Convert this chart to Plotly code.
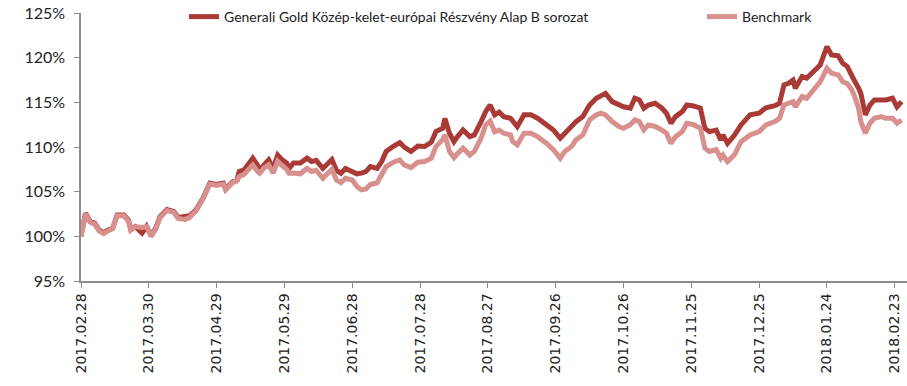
import plotly.graph_objects as go

# Daily net asset value index (start = 100%) for the fund and its benchmark
dates = [
    "2017-02-28", "2017-03-02", "2017-03-04", "2017-03-06", "2017-03-08", "2017-03-10",
    "2017-03-12", "2017-03-14", "2017-03-16", "2017-03-19", "2017-03-21", "2017-03-22",
    "2017-03-24", "2017-03-27", "2017-03-29", "2017-03-31", "2017-04-02", "2017-04-04",
    "2017-04-07", "2017-04-10", "2017-04-12", "2017-04-15", "2017-04-17", "2017-04-20",
    "2017-04-23", "2017-04-26", "2017-04-29", "2017-05-02", "2017-05-03", "2017-05-06",
    "2017-05-08", "2017-05-09", "2017-05-11", "2017-05-14", "2017-05-15", "2017-05-17",
    "2017-05-18", "2017-05-20", "2017-05-22", "2017-05-24", "2017-05-26", "2017-05-28",
    "2017-05-30", "2017-05-31", "2017-06-02", "2017-06-05", "2017-06-08", "2017-06-10",
    "2017-06-12", "2017-06-15", "2017-06-19", "2017-06-21", "2017-06-23", "2017-06-25",
    "2017-06-28", "2017-06-30", "2017-07-02", "2017-07-04", "2017-07-06", "2017-07-09",
    "2017-07-11", "2017-07-13", "2017-07-16", "2017-07-19", "2017-07-21", "2017-07-24",
    "2017-07-27", "2017-07-30", "2017-08-02", "2017-08-04", "2017-08-07", "2017-08-08",
    "2017-08-10", "2017-08-12", "2017-08-13", "2017-08-16", "2017-08-19", "2017-08-21",
    "2017-08-24", "2017-08-26", "2017-08-28", "2017-08-30", "2017-09-01", "2017-09-03",
    "2017-09-06", "2017-09-07", "2017-09-09", "2017-09-12", "2017-09-15", "2017-09-18",
    "2017-09-22", "2017-09-25", "2017-09-28", "2017-09-30", "2017-10-03", "2017-10-05",
    "2017-10-08", "2017-10-11", "2017-10-14", "2017-10-16", "2017-10-18", "2017-10-21",
    "2017-10-24", "2017-10-26", "2017-10-29", "2017-10-31", "2017-11-02", "2017-11-04",
    "2017-11-06", "2017-11-09", "2017-11-12", "2017-11-14", "2017-11-16", "2017-11-18",
    "2017-11-21", "2017-11-23", "2017-11-26", "2017-11-29", "2017-12-01", "2017-12-03",
    "2017-12-06", "2017-12-08", "2017-12-09", "2017-12-11", "2017-12-14", "2017-12-17",
    "2017-12-21", "2017-12-25", "2017-12-28", "2018-01-01", "2018-01-03", "2018-01-05",
    "2018-01-07", "2018-01-09", "2018-01-10", "2018-01-13", "2018-01-15", "2018-01-18",
    "2018-01-21", "2018-01-24", "2018-01-26", "2018-01-29", "2018-01-31", "2018-02-02",
    "2018-02-04", "2018-02-05", "2018-02-07", "2018-02-08", "2018-02-10", "2018-02-12",
    "2018-02-14", "2018-02-17", "2018-02-19", "2018-02-22", "2018-02-24", "2018-02-26",
]

fund = [
    100.0, 102.6, 101.7, 101.5, 100.7, 100.4,
    100.7, 100.9, 102.4, 102.4, 101.8, 100.8,
    101.1, 100.35, 101.1, 100.1, 100.9, 102.2,
    103.0, 102.8, 102.1, 102.3, 102.3, 103.0,
    104.3, 105.95, 105.8, 105.95, 105.3, 106.1,
    106.3, 107.25, 107.4, 108.4, 108.75, 108.0,
    107.4, 108.0, 108.56, 107.6, 109.1, 108.56,
    108.2, 107.6, 108.2, 108.2, 108.75, 108.37,
    108.5, 107.6, 108.6, 107.4, 107.07, 107.6,
    107.25, 107.0, 107.07, 107.25, 107.8, 107.6,
    108.37, 109.5, 110.05, 110.5, 110.0, 109.5,
    110.1, 110.05, 110.54, 111.72, 112.1, 113.2,
    111.54, 110.6, 110.98, 111.9, 111.16, 111.35,
    112.84, 113.96, 114.7, 113.6, 113.9, 113.4,
    113.22, 112.84, 112.28, 113.6, 113.6, 113.22,
    112.47, 111.9, 110.98, 111.54, 112.28, 112.84,
    113.4, 114.7, 115.46, 115.8, 116.0, 115.08,
    114.7, 114.5, 114.34, 115.46, 115.27, 114.34,
    114.7, 114.9, 114.34, 113.78, 112.66, 113.4,
    113.96, 114.7, 114.6, 114.34, 112.1, 111.72,
    111.9, 110.8, 111.35, 110.4, 111.3, 112.47,
    113.6, 113.78, 114.4, 114.63, 114.9, 116.95,
    117.14, 117.5, 116.58, 117.88, 117.7, 118.43,
    119.18, 121.23, 120.3, 120.2, 119.37, 119.0,
    117.88, 117.5, 116.58, 116.0, 113.6, 114.7,
    115.27, 115.27, 115.27, 115.46, 114.5, 115.08,
]

benchmark = [
    100.0, 102.5, 101.6, 101.4, 100.6, 100.3,
    100.6, 100.9, 102.3, 102.3, 101.7, 100.7,
    101.1, 101.0, 101.1, 100.0, 100.8, 102.1,
    102.9, 102.7, 102.0, 101.9, 102.1, 102.9,
    104.2, 105.85, 105.7, 105.85, 105.2, 106.0,
    106.2, 106.7, 106.9, 107.7, 108.0, 107.3,
    107.07, 107.65, 108.0, 107.07, 108.4, 107.9,
    107.5, 107.07, 107.1, 107.0, 107.6, 107.26,
    107.4, 106.5, 107.5, 106.3, 106.0, 106.5,
    106.3, 105.6, 105.2, 105.3, 105.8, 106.0,
    106.9, 107.8, 108.26, 108.56, 108.0, 107.7,
    108.3, 108.37, 108.75, 110.05, 110.8, 111.35,
    109.5, 108.8, 109.1, 109.87, 109.1, 109.5,
    110.98, 112.47, 112.9, 111.7, 111.9, 111.54,
    111.35, 110.6, 110.23, 111.54, 111.54, 111.16,
    110.4, 109.7, 108.75, 109.5, 110.05, 110.8,
    111.35, 113.03, 113.6, 113.78, 113.6, 112.84,
    112.28, 112.1, 112.5, 113.03, 112.84, 111.9,
    112.47, 112.3, 111.9, 111.54, 110.4, 111.16,
    111.72, 112.66, 112.5, 112.1, 109.87, 109.5,
    109.7, 108.75, 109.1, 108.37, 109.1, 110.6,
    111.35, 111.72, 112.47, 112.84, 113.2, 114.7,
    114.9, 115.08, 114.5, 115.64, 115.46, 116.4,
    117.3, 118.8, 118.25, 118.07, 117.3, 117.1,
    116.4, 115.8, 114.34, 112.84, 111.54, 112.66,
    113.22, 113.4, 113.22, 113.22, 112.66, 113.03,
]

tick_dates = [
    "2017-02-28", "2017-03-30", "2017-04-29", "2017-05-29", "2017-06-28",
    "2017-07-28", "2017-08-27", "2017-09-26", "2017-10-26", "2017-11-25",
    "2017-12-25", "2018-01-24", "2018-02-23",
]
tick_labels = [d.replace("-", ".") for d in tick_dates]

fund_name = "Generali Gold Közép-kelet-európai Részvény Alap B sorozat"
bench_name = "Benchmark"

FUND_COLOR = "#a93a36"
BENCH_COLOR = "#d8908e"
AXIS_COLOR = "#8c8c8c"
TEXT_COLOR = "#222222"
TEXT_FONT = "Lato"

fig = go.Figure()
fig.add_trace(go.Scatter(
    x=dates, y=fund, name=fund_name, mode="lines",
    line=dict(color=FUND_COLOR, width=5),
    legend="legend",
))
fig.add_trace(go.Scatter(
    x=dates, y=benchmark, name=bench_name, mode="lines",
    line=dict(color=BENCH_COLOR, width=5),
    legend="legend2",
))

legend_style = dict(
    orientation="h",
    y=0.985, xanchor="left", yanchor="middle",
    font=dict(family=TEXT_FONT, size=14, color=TEXT_COLOR),
    bgcolor="rgba(255,255,255,0)",
    borderwidth=0,
)

fig.update_layout(
    width=907, height=386,
    margin=dict(l=81, r=0, t=13, b=105, autoexpand=False),
    paper_bgcolor="white", plot_bgcolor="white",
    showlegend=True,
    legend=dict(x=0.1247, **legend_style),
    legend2=dict(x=0.7518, **legend_style),
    xaxis=dict(
        type="date",
        range=["2017-02-28", "2018-02-28 10:00"],
        tickvals=tick_dates, ticktext=tick_labels,
        tickangle=-90,
        tickfont=dict(family="DejaVu Sans", size=14, color=TEXT_COLOR),
        ticks="outside", ticklen=5, tickcolor=AXIS_COLOR,
        showline=True, linecolor=AXIS_COLOR, linewidth=1.5,
        showgrid=False, zeroline=False,
    ),
    yaxis=dict(
        range=[95, 125], dtick=5, tick0=95,
        ticksuffix="%",
        tickfont=dict(family=TEXT_FONT, size=16, color=TEXT_COLOR),
        ticks="outside", ticklen=5, tickcolor=AXIS_COLOR,
        ticklabelstandoff=6,
        showline=True, linecolor=AXIS_COLOR, linewidth=1.5,
        showgrid=False, zeroline=False,
    ),
)

fig.write_html("out.html")
